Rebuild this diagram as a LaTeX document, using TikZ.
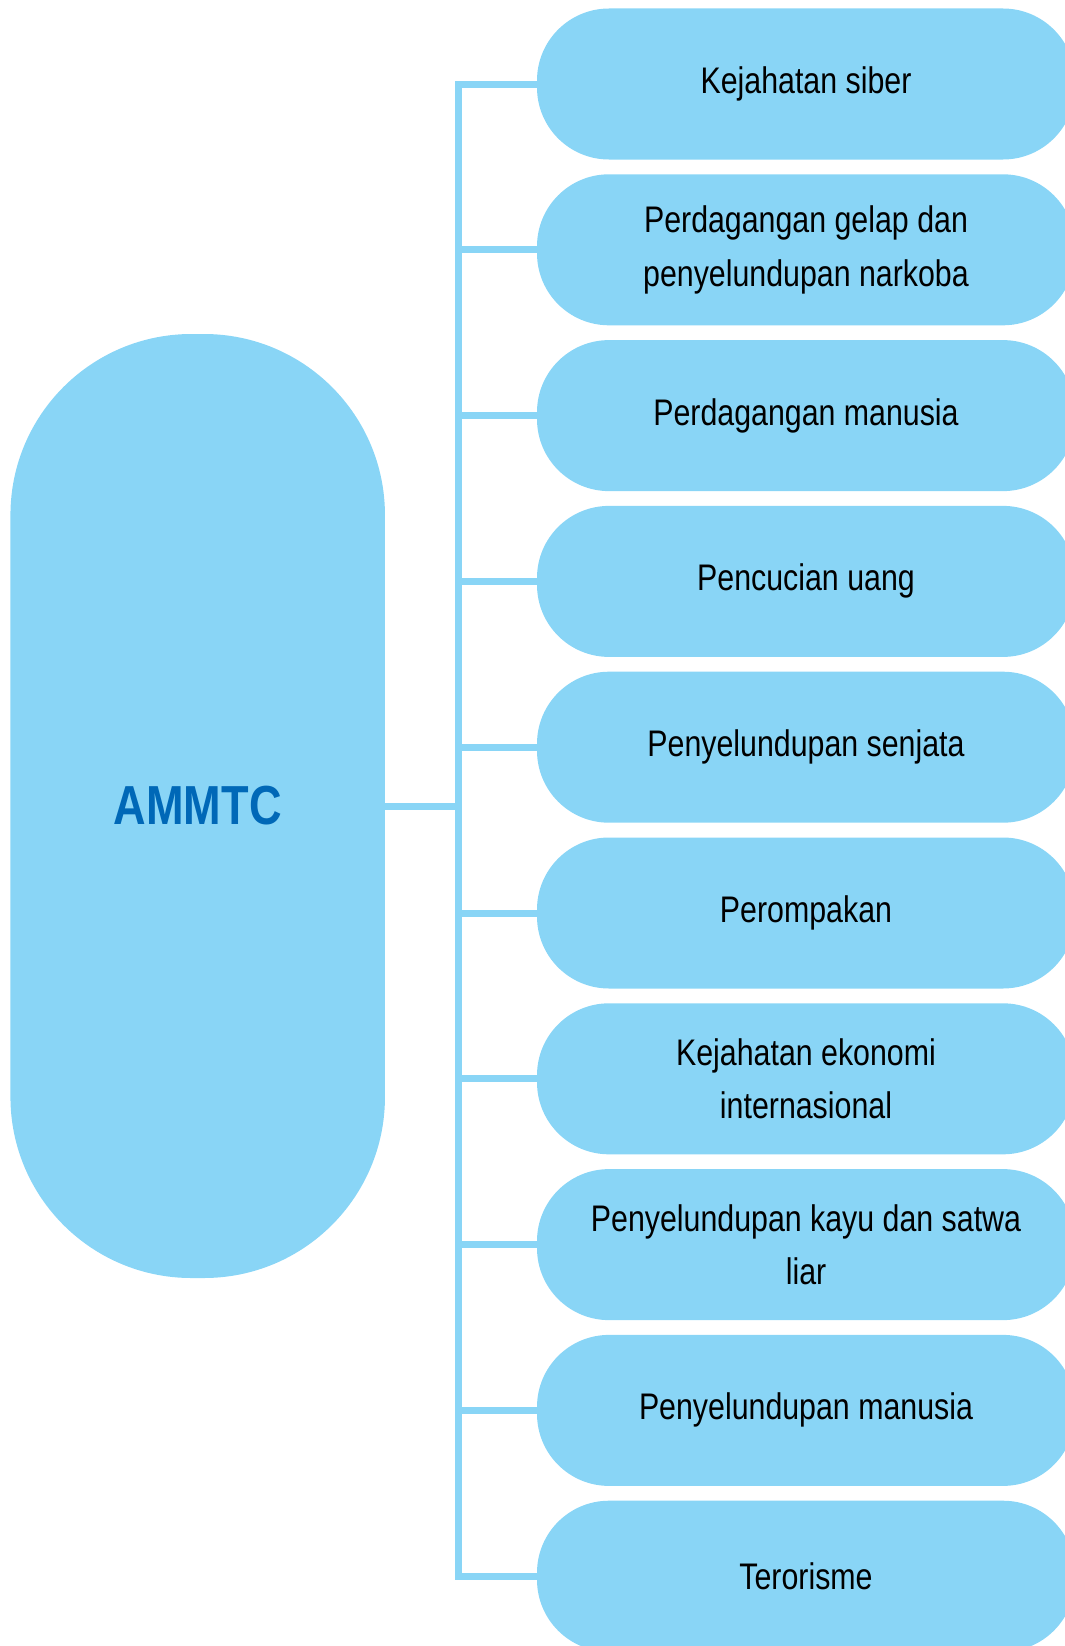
\documentclass[tikz,border=0pt]{standalone}
\usepackage{fontspec}
\setmainfont{Liberation Sans}[FakeStretch=0.82]
\usetikzlibrary{positioning}
\definecolor{skyfill}{RGB}{137,213,246}
\definecolor{ammtcblue}{RGB}{0,104,183}

\begin{document}
\begin{tikzpicture}[
    x=1pt, y=-1pt,
    node distance=14.4pt,
    hub/.style={rectangle, fill=skyfill, rounded corners=181pt, minimum width=374.5pt, minimum height=944pt, text=ammtcblue, font=\fontsize{55}{60}\selectfont\bfseries},
    crime/.style={rectangle, fill=skyfill, rounded corners=72pt, minimum width=538pt, minimum height=151pt, align=center, font=\fontsize{37}{53.5}\selectfont},
    link/.style={draw=skyfill, line width=7pt}
]
    \useasboundingbox (0,0) rectangle (1065,1646);

    \node[hub] (ammtc) at (197.7,806) {AMMTC};

    \node[crime] (c1) at (806,84) {Kejahatan siber};
    \node[crime, below=of c1] (c2) {Perdagangan gelap dan\\penyelundupan narkoba};
    \node[crime, below=of c2] (c3) {Perdagangan manusia};
    \node[crime, below=of c3] (c4) {Pencucian uang};
    \node[crime, below=of c4] (c5) {Penyelundupan senjata};
    \node[crime, below=of c5] (c6) {Perompakan};
    \node[crime, below=of c6] (c7) {Kejahatan ekonomi\\internasional};
    \node[crime, below=of c7] (c8) {Penyelundupan kayu dan satwa\\liar};
    \node[crime, below=of c8] (c9) {Penyelundupan manusia};
    \node[crime, below=of c9] (c10) {Terorisme};

    \coordinate (bus) at (458.6,806);

    \draw[link] (c1.west) -- (bus |- c1.west) -- (bus |- c10.west) -- (c10.west);
    \draw[link] (bus |- c2.west) -- (c2.west)
                (bus |- c3.west) -- (c3.west)
                (bus |- c4.west) -- (c4.west)
                (bus |- c5.west) -- (c5.west)
                (bus |- c6.west) -- (c6.west)
                (bus |- c7.west) -- (c7.west)
                (bus |- c8.west) -- (c8.west)
                (bus |- c9.west) -- (c9.west);
    \draw[link] (ammtc.east) -- (bus);
\end{tikzpicture}
\end{document}
